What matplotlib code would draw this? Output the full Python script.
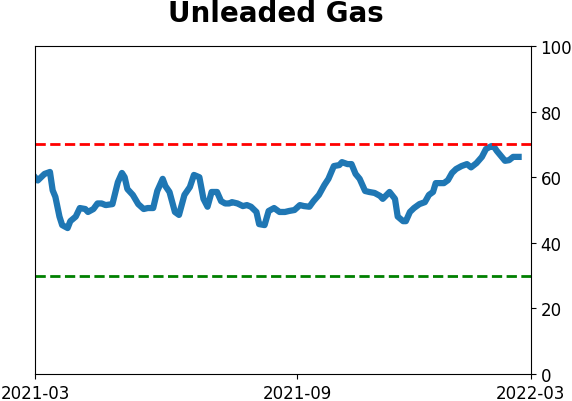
import matplotlib
matplotlib.use("Agg")
import matplotlib.pyplot as plt
import matplotlib.dates as mdates
import pandas as pd

TITLE = "Unleaded Gas"
UPPER = 70
LOWER = 30
X_START = "2021-03-01"
X_END = "2022-03-01"
TICK_DATES = ["2021-03-01", "2021-09-10", "2022-03-01"]

dates = [
    "2021-03-01", "2021-03-03", "2021-03-08", "2021-03-12", "2021-03-14", "2021-03-16",
    "2021-03-19", "2021-03-21", "2021-03-25", "2021-03-27", "2021-03-31", "2021-04-03",
    "2021-04-07", "2021-04-09", "2021-04-13", "2021-04-16", "2021-04-19", "2021-04-22",
    "2021-04-27", "2021-05-01", "2021-05-04", "2021-05-06", "2021-05-08", "2021-05-12",
    "2021-05-16", "2021-05-20", "2021-05-23", "2021-05-27", "2021-05-30", "2021-06-03",
    "2021-06-05", "2021-06-08", "2021-06-12", "2021-06-15", "2021-06-19", "2021-06-23",
    "2021-06-26", "2021-06-30", "2021-07-03", "2021-07-06", "2021-07-09", "2021-07-13",
    "2021-07-16", "2021-07-19", "2021-07-22", "2021-07-24", "2021-07-28", "2021-08-01",
    "2021-08-04", "2021-08-07", "2021-08-11", "2021-08-13", "2021-08-17", "2021-08-20",
    "2021-08-24", "2021-08-28", "2021-09-01", "2021-09-04", "2021-09-08", "2021-09-12",
    "2021-09-15", "2021-09-19", "2021-09-22", "2021-09-26", "2021-09-30", "2021-10-03",
    "2021-10-07", "2021-10-11", "2021-10-13", "2021-10-17", "2021-10-20", "2021-10-23",
    "2021-10-26", "2021-10-30", "2021-11-02", "2021-11-06", "2021-11-10", "2021-11-12",
    "2021-11-17", "2021-11-21", "2021-11-23", "2021-11-27", "2021-11-29", "2021-12-02",
    "2021-12-05", "2021-12-09", "2021-12-13", "2021-12-16", "2021-12-19", "2021-12-21",
    "2021-12-24", "2021-12-27", "2021-12-30", "2022-01-02", "2022-01-05", "2022-01-09",
    "2022-01-13", "2022-01-16", "2022-01-20", "2022-01-24", "2022-01-27", "2022-01-31",
    "2022-02-02", "2022-02-04", "2022-02-07", "2022-02-10", "2022-02-13", "2022-02-16",
    "2022-02-20",
]
values = [
    60.0, 59.0, 61.0, 61.6, 56.0, 54.0,
    48.0, 45.4, 44.5, 46.6, 48.0, 50.6,
    50.3, 49.4, 50.3, 52.0, 52.0, 51.5,
    51.8, 58.5, 61.3, 60.0, 56.4, 54.6,
    51.8, 50.3, 50.6, 50.6, 55.8, 59.5,
    57.3, 55.5, 49.4, 48.5, 54.6, 57.0,
    60.7, 60.0, 53.4, 51.0, 55.5, 55.5,
    52.7, 52.0, 52.0, 52.4, 52.0, 51.2,
    51.5, 51.0, 49.4, 45.7, 45.4, 49.7,
    50.6, 49.4, 49.4, 49.7, 50.0, 51.5,
    51.2, 51.0, 52.7, 54.6, 57.6, 59.5,
    63.4, 63.7, 64.6, 64.0, 64.0, 61.0,
    59.5, 55.8, 55.5, 55.2, 54.3, 53.4,
    55.5, 53.4, 48.0, 46.6, 46.6, 49.4,
    50.6, 51.8, 52.4, 54.6, 55.5, 58.2,
    58.2, 58.2, 59.1, 61.3, 62.5, 63.4,
    64.0, 63.0, 64.3, 66.2, 68.6, 69.5,
    69.2, 68.0, 66.5, 65.0, 65.2, 66.2,
    66.2,
]

x = pd.to_datetime(dates)

fig = plt.figure(figsize=(5.72, 4.02), dpi=100)
ax = fig.add_axes([0.0612, 0.0672, 0.8668, 0.8158])

ax.plot(x, values, color="#1f77b4", linewidth=4.5)
ax.axhline(UPPER, color="red", linestyle="--", linewidth=2)
ax.axhline(LOWER, color="green", linestyle="--", linewidth=2)

ax.set_ylim(0, 100)
ax.set_xlim(pd.Timestamp(X_START), pd.Timestamp(X_END))
ax.yaxis.tick_right()
ax.set_yticks([0, 20, 40, 60, 80, 100])
ax.set_xticks(pd.to_datetime(TICK_DATES))
ax.xaxis.set_major_formatter(mdates.DateFormatter("%Y-%m"))
ax.tick_params(labelsize=12)

ax.set_title(TITLE, fontsize=20, fontweight="bold", pad=18, x=0.485)

fig.savefig("out.png", dpi=100)
